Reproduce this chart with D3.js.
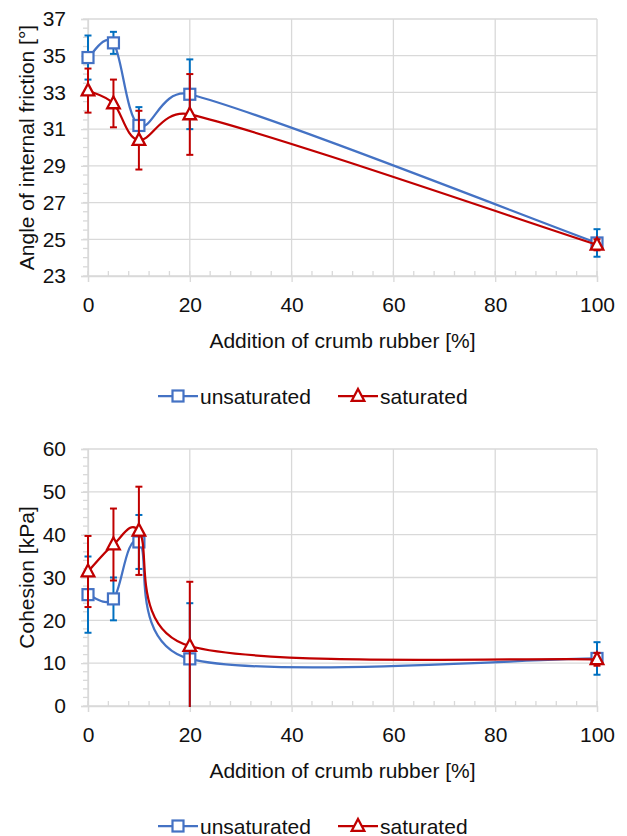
<!DOCTYPE html>
<html>
<head>
<meta charset="utf-8">
<script src="https://cdnjs.cloudflare.com/ajax/libs/d3/7.8.5/d3.min.js"></script>
<style>
  body { margin: 0; background: #fff; }
  text { font-family: "Liberation Sans", Arial, sans-serif; fill: #111; }
</style>
</head>
<body>
<div id="chart"></div>
<script>
// Data
var rubberAddition = [0, 5, 10, 20, 100];

var frictionUnsat = [34.9, 35.7, 31.2, 32.9, 24.8];
var frictionUnsatErr = [1.2, 0.6, 1.0, 1.9, 0.75];
var frictionSat = [33.1, 32.4, 30.4, 31.8, 24.7];
var frictionSatErr = [1.2, 1.3, 1.6, 2.2, 0.3];

var cohesionUnsat = [26.0, 25.0, 38.3, 11.0, 11.1];
var cohesionUnsatErr = [8.9, 5.0, 6.3, 13.0, 3.8];
var cohesionSat = [31.4, 37.7, 40.9, 14.0, 10.9];
var cohesionSatErr = [8.3, 8.4, 10.3, 15.0, 1.5];

var xTicks = [0, 20, 40, 60, 80, 100];
var frictionTicks = [23, 25, 27, 29, 31, 33, 35, 37];
var cohesionTicks = [0, 10, 20, 30, 40, 50, 60];

var seriesNames = ["unsaturated", "saturated"];

// Styles
var blue = "#4472C4";
var blueErr = "#0070C0";
var red = "#C00000";
var gridColor = "#d9d9d9";

var svgWidth = 627;
var svgHeight = 836;

var svg = d3.select("#chart")
    .append("svg")
    .attr("width", svgWidth)
    .attr("height", svgHeight);

svg.append("rect")
    .attr("width", svgWidth)
    .attr("height", svgHeight)
    .attr("fill", "#fff");

// spreadsheet-style smoothed line: bezier with 1/6 tangents,
// control arms limited to half of the segment length
function smoothPath(pts) {
    var p = d3.path();
    var dist = (a, b) => Math.hypot(b[0] - a[0], b[1] - a[1]);
    p.moveTo(pts[0][0], pts[0][1]);
    for (var i = 0; i < pts.length - 1; i++) {
        var p0 = pts[Math.max(i - 1, 0)];
        var p1 = pts[i];
        var p2 = pts[i + 1];
        var p3 = pts[Math.min(i + 2, pts.length - 1)];
        var d12 = dist(p1, p2), d02 = dist(p0, p2), d13 = dist(p1, p3);
        var f1 = 1 / 6, f2 = 1 / 6;
        if (d02 / 6 >= d12 / 2) f1 = d12 / (2 * d02);
        if (d13 / 6 >= d12 / 2) f2 = d12 / (2 * d13);
        p.bezierCurveTo(
            p1[0] + f1 * (p2[0] - p0[0]), p1[1] + f1 * (p2[1] - p0[1]),
            p2[0] - f2 * (p3[0] - p1[0]), p2[1] - f2 * (p3[1] - p1[1]),
            p2[0], p2[1]);
    }
    return p.toString();
}

// draw one marker (square or triangle) centred on 0,0 of the group
function drawMarker(g, type) {
    if (type === "square") {
        g.append("rect")
            .attr("x", -5.5).attr("y", -5.5)
            .attr("width", 11).attr("height", 11)
            .attr("fill", "#fff")
            .attr("stroke", blue)
            .attr("stroke-width", 2.2);
    } else {
        g.append("path")
            .attr("d", "M0,-7L6.3,4.8L-6.3,4.8Z")
            .attr("fill", "#fff")
            .attr("stroke", red)
            .attr("stroke-width", 2.3);
    }
}

// draw one panel of the figure
function drawPanel(cfg) {
    var x = d3.scaleLinear().domain([0, 100]).range([88, 597]);
    var y = d3.scaleLinear().domain(cfg.yDomain).range([cfg.bottom, cfg.top]);

    var g = svg.append("g");

    // clip vertically only (error bars stop at the plot edges)
    var clipId = "clip-" + cfg.id;
    g.append("clipPath").attr("id", clipId)
        .append("rect")
        .attr("x", 0).attr("y", cfg.top - 1)
        .attr("width", svgWidth)
        .attr("height", cfg.bottom - cfg.top + 2);

    // gridlines
    g.append("g")
        .selectAll("line")
        .data(cfg.yTicks)
        .enter()
        .append("line")
        .attr("x1", x(0)).attr("x2", x(100))
        .attr("y1", d => y(d)).attr("y2", d => y(d))
        .attr("stroke", gridColor).attr("stroke-width", 1.3);
    g.append("g")
        .selectAll("line")
        .data(xTicks)
        .enter()
        .append("line")
        .attr("x1", d => x(d)).attr("x2", d => x(d))
        .attr("y1", cfg.top).attr("y2", cfg.bottom)
        .attr("stroke", gridColor).attr("stroke-width", 1.3);

    // minor ticks
    var yMinor = d3.range(cfg.yDomain[0], cfg.yDomain[1] + 1e-9, cfg.yMinorStep);
    g.append("g")
        .selectAll("line")
        .data(yMinor)
        .enter()
        .append("line")
        .attr("x1", x(0) - 5).attr("x2", x(0))
        .attr("y1", d => y(d)).attr("y2", d => y(d))
        .attr("stroke", gridColor).attr("stroke-width", 1.3);
    g.append("g")
        .selectAll("line")
        .data(d3.range(0, 101, 4))
        .enter()
        .append("line")
        .attr("x1", d => x(d)).attr("x2", d => x(d))
        .attr("y1", cfg.bottom - 5).attr("y2", cfg.bottom)
        .attr("stroke", gridColor).attr("stroke-width", 1.3);

    // axes
    var leftAxis = d3.axisLeft(y).tickValues(cfg.yTicks).tickSize(7).tickPadding(15);
    var yAxis = g.append("g")
        .attr("transform", `translate(${x(0)},0)`)
        .call(leftAxis);
    var bottomAxis = d3.axisBottom(x).tickValues(xTicks).tickSize(6).tickPadding(15);
    var xAxis = g.append("g")
        .attr("transform", `translate(0,${cfg.bottom})`)
        .call(bottomAxis);

    [xAxis, yAxis].forEach(function(a) {
        a.select(".domain").attr("stroke", gridColor).attr("stroke-width", 1.3);
        a.selectAll(".tick line").attr("stroke", gridColor).attr("stroke-width", 1.3);
        a.selectAll(".tick text")
            .attr("font-size", 21)
            .attr("font-family", "Liberation Sans, Arial, sans-serif")
            .attr("fill", "#111");
    });

    // axis titles
    g.append("text")
        .attr("transform", `translate(26,${(cfg.top + cfg.bottom) / 2}) rotate(-90)`)
        .attr("text-anchor", "middle")
        .attr("dominant-baseline", "central")
        .attr("font-size", 21)
        .text(cfg.yTitle);
    g.append("text")
        .attr("x", (x(0) + x(100)) / 2)
        .attr("y", cfg.bottom + 64)
        .attr("text-anchor", "middle")
        .attr("dominant-baseline", "central")
        .attr("font-size", 21)
        .text("Addition of crumb rubber [%]");

    var series = [
        { values: cfg.unsat, err: cfg.unsatErr, color: blue, errColor: blueErr, marker: "square" },
        { values: cfg.sat, err: cfg.satErr, color: red, errColor: red, marker: "triangle" }
    ];

    var plot = g.append("g");

    series.forEach(function(s) {
        var sg = plot.append("g");

        // error bars
        var eb = sg.append("g")
            .attr("clip-path", `url(#${clipId})`)
            .selectAll("g")
            .data(s.values)
            .enter()
            .append("g");
        eb.append("line")
            .attr("x1", (d, i) => x(rubberAddition[i]))
            .attr("x2", (d, i) => x(rubberAddition[i]))
            .attr("y1", (d, i) => y(d + s.err[i]))
            .attr("y2", (d, i) => y(d - s.err[i]))
            .attr("stroke", s.errColor).attr("stroke-width", 2);
        [1, -1].forEach(function(sign) {
            eb.append("line")
                .attr("x1", (d, i) => x(rubberAddition[i]) - 3.5)
                .attr("x2", (d, i) => x(rubberAddition[i]) + 3.5)
                .attr("y1", (d, i) => y(d + sign * s.err[i]))
                .attr("y2", (d, i) => y(d + sign * s.err[i]))
                .attr("stroke", s.errColor).attr("stroke-width", 2);
        });

        // smoothed line
        var pts = s.values.map((d, i) => [x(rubberAddition[i]), y(d)]);
        sg.append("path")
            .attr("d", smoothPath(pts))
            .attr("fill", "none")
            .attr("stroke", s.color)
            .attr("stroke-width", 2.25);

        // markers
        sg.selectAll("g.marker")
            .data(s.values)
            .enter()
            .append("g")
            .attr("class", "marker")
            .attr("transform", (d, i) => `translate(${x(rubberAddition[i])},${y(d)})`)
            .each(function() { drawMarker(d3.select(this), s.marker); });
    });

    // legend
    var legendY = cfg.bottom + 120;
    var legendItems = [
        { name: seriesNames[0], color: blue, marker: "square", x0: 158 },
        { name: seriesNames[1], color: red, marker: "triangle", x0: 338 }
    ];
    legendItems.forEach(function(item) {
        var lg = g.append("g");
        lg.append("line")
            .attr("x1", item.x0).attr("x2", item.x0 + 40)
            .attr("y1", legendY).attr("y2", legendY)
            .attr("stroke", item.color).attr("stroke-width", 2.25);
        var mg = lg.append("g").attr("transform", `translate(${item.x0 + 20},${legendY})`);
        drawMarker(mg, item.marker);
        lg.append("text")
            .attr("x", item.x0 + 42)
            .attr("y", legendY)
            .attr("dominant-baseline", "central")
            .attr("font-size", 21)
            .text(item.name);
    });
}

drawPanel({
    id: "friction",
    top: 19, bottom: 276,
    yDomain: [23, 37], yTicks: frictionTicks, yMinorStep: 0.5,
    yTitle: "Angle of internal friction [°]",
    unsat: frictionUnsat, unsatErr: frictionUnsatErr,
    sat: frictionSat, satErr: frictionSatErr
});

drawPanel({
    id: "cohesion",
    top: 449, bottom: 706,
    yDomain: [0, 60], yTicks: cohesionTicks, yMinorStep: 2,
    yTitle: "Cohesion [kPa]",
    unsat: cohesionUnsat, unsatErr: cohesionUnsatErr,
    sat: cohesionSat, satErr: cohesionSatErr
});
</script>
</body>
</html>
